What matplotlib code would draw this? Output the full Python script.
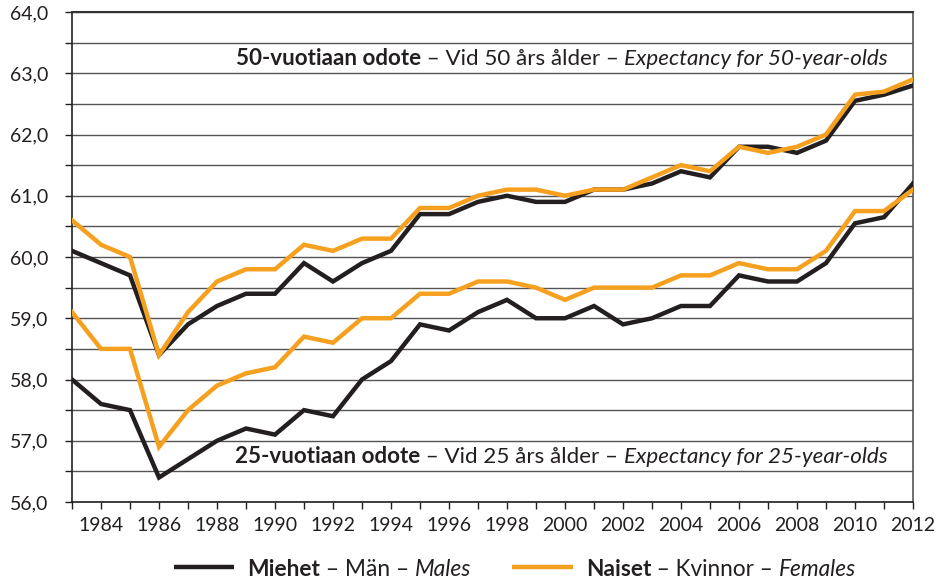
import matplotlib
matplotlib.use("Agg")
import matplotlib.pyplot as plt
from matplotlib.lines import Line2D

plt.rcParams['font.family'] = ['Lato', 'DejaVu Sans']

years = list(range(1983, 2013))
male50 = [60.1, 59.9, 59.7, 58.4, 58.9, 59.2, 59.4, 59.4, 59.9, 59.6, 59.9, 60.1, 60.7, 60.7, 60.9,
          61.0, 60.9, 60.9, 61.1, 61.1, 61.2, 61.4, 61.3, 61.8, 61.8, 61.7, 61.9, 62.55, 62.65, 62.8]
female50 = [60.6, 60.2, 60.0, 58.4, 59.1, 59.6, 59.8, 59.8, 60.2, 60.1, 60.3, 60.3, 60.8, 60.8, 61.0,
            61.1, 61.1, 61.0, 61.1, 61.1, 61.3, 61.5, 61.4, 61.8, 61.7, 61.8, 62.0, 62.65, 62.7, 62.9]
male25 = [58.0, 57.6, 57.5, 56.4, 56.7, 57.0, 57.2, 57.1, 57.5, 57.4, 58.0, 58.3, 58.9, 58.8, 59.1,
          59.3, 59.0, 59.0, 59.2, 58.9, 59.0, 59.2, 59.2, 59.7, 59.6, 59.6, 59.9, 60.55, 60.65, 61.2]
female25 = [59.1, 58.5, 58.5, 56.9, 57.5, 57.9, 58.1, 58.2, 58.7, 58.6, 59.0, 59.0, 59.4, 59.4, 59.6,
            59.6, 59.5, 59.3, 59.5, 59.5, 59.5, 59.7, 59.7, 59.9, 59.8, 59.8, 60.1, 60.75, 60.75, 61.1]
yticks = [56, 56.5, 57, 57.5, 58, 58.5, 59, 59.5, 60, 60.5, 61, 61.5, 62, 62.5, 63, 63.5, 64]
ytick_labels = ["56,0", "", "57,0", "", "58,0", "", "59,0", "", "60,0", "", "61,0", "",
                "62,0", "", "63,0", "", "64,0"]
xtick_labels = [str(y) if y % 2 == 0 else "" for y in years]

label50 = [("50-vuotiaan odote", "bold", "normal"), (" – Vid 50 års ålder – ", "normal", "normal"),
           ("Expectancy for 50-year-olds", "normal", "italic")]
label25 = [("25-vuotiaan odote", "bold", "normal"), (" – Vid 25 års ålder – ", "normal", "normal"),
           ("Expectancy for 25-year-olds", "normal", "italic")]
leg_male = [("Miehet", "bold", "normal"), (" – Män – ", "normal", "normal"), ("Males", "normal", "italic")]
leg_female = [("Naiset", "bold", "normal"), (" – Kvinnor – ", "normal", "normal"), ("Females", "normal", "italic")]

BLACK = "#231f20"
ORANGE = "#f5a01f"
TXT = "#231f20"

W, H = 936, 582
fig = plt.figure(figsize=(W / 100, H / 100), dpi=100)
ax = fig.add_axes([72 / W, 1 - 502 / H, (913 - 72) / W, (502 - 12) / H])

lw = 3.2
ax.plot(years, male50, color=BLACK, lw=lw, solid_joinstyle='miter', zorder=3)
ax.plot(years, female50, color=ORANGE, lw=lw, solid_joinstyle='miter', zorder=4)
ax.plot(years, male25, color=BLACK, lw=lw, solid_joinstyle='miter', zorder=3)
ax.plot(years, female25, color=ORANGE, lw=lw, solid_joinstyle='miter', zorder=4)

ax.set_xlim(1983, 2012)
ax.set_ylim(56, 64)
ax.set_yticks(yticks)
ax.set_yticklabels(ytick_labels)
ax.set_xticks(years)
ax.set_xticklabels(xtick_labels)
ax.grid(axis='y', color="#555555", lw=1.0)
ax.set_axisbelow(True)
ax.tick_params(axis='both', direction='out', length=5, width=1, color=BLACK, labelsize=14,
               labelcolor=TXT)
ax.tick_params(axis='y', pad=12)
ax.tick_params(axis='x', pad=6)
for s in ['left', 'bottom']:
    ax.spines[s].set_color(BLACK)
    ax.spines[s].set_linewidth(1.2)
ax.spines['top'].set_color("#333333")
ax.spines['top'].set_linewidth(1.5)
ax.spines['right'].set_color("#555555")
ax.spines['right'].set_linewidth(1.2)

renderer = fig.canvas.get_renderer()


def rich(parts, x_px, y_px, ha, size, target_w=None):
    texts = []
    for s, wgt, sty in parts:
        t = fig.text(0, 0, s, fontsize=size, fontweight=wgt, fontstyle=sty, color=TXT,
                     va='baseline', ha='left')
        texts.append(t)
    widths = [t.get_window_extent(renderer).width for t in texts]
    total = sum(widths)
    if target_w is not None:
        scale = target_w / total
        for t in texts:
            t.set_fontsize(size * scale)
        widths = [t.get_window_extent(renderer).width for t in texts]
        total = sum(widths)
    x = x_px - total if ha == 'right' else x_px
    for t, w in zip(texts, widths):
        t.set_position((x / W, 1 - y_px / H))
        x += w
    return texts


rich(label50, 888, 65, 'right', 15, target_w=654)
rich(label25, 888, 463, 'right', 15, target_w=654)

# legend
fig.add_artist(Line2D([174 / W, 234 / W], [1 - 567 / H, 1 - 567 / H], color=BLACK, lw=lw,
                      solid_capstyle='butt'))
fig.add_artist(Line2D([512 / W, 573 / W], [1 - 567 / H, 1 - 567 / H], color=ORANGE, lw=lw,
                      solid_capstyle='butt'))
rich(leg_male, 247, 576, 'left', 15, target_w=225)
rich(leg_female, 586, 576, 'left', 15, target_w=271)

fig.savefig("out.png", dpi=100)
